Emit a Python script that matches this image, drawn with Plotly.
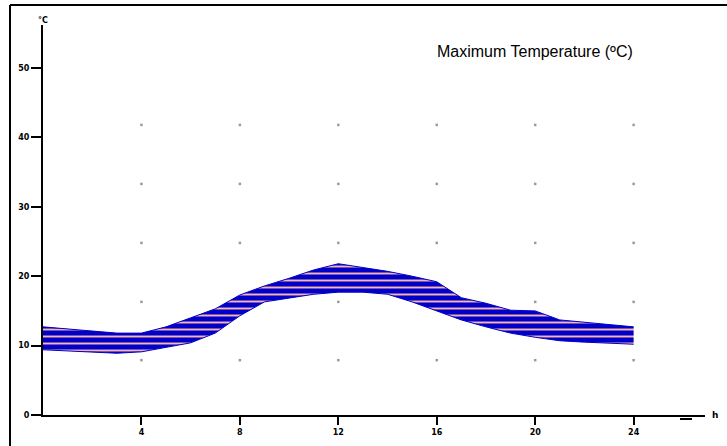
import plotly.graph_objects as go

# Hours of the day
hours = list(range(0, 25))
# Upper and lower edges of the maximum-temperature band (°C)
upper = [12.7, 12.4, 12.0, 11.8, 11.8, 12.7, 14.0, 15.3, 17.3, 18.6, 19.7, 20.9, 21.8,
         21.3, 20.7, 20.0, 19.2, 16.9, 16.1, 15.1, 15.0, 13.7, 13.4, 13.0, 12.7]
lower = [9.4, 9.2, 9.1, 8.9, 9.1, 9.7, 10.4, 11.8, 14.3, 16.3, 16.9, 17.4, 17.7,
         17.7, 17.4, 16.3, 15.0, 13.7, 12.7, 11.8, 11.2, 10.7, 10.5, 10.4, 10.2]

x_ticks = [4, 8, 12, 16, 20, 24]
x_labels = ["4", "8", "12", "16", "20", "24"]
y_ticks = [0, 10, 20, 30, 40, 50]
y_labels = ["0", "10", "20", "30", "40", "50"]

# dotted background grid
grid_x = [4, 8, 12, 16, 20, 24]
grid_y = [7.9, 16.3, 24.8, 33.3, 41.8]

fig = go.Figure()

gx, gy = [], []
for xv in grid_x:
    for yv in grid_y:
        gx.append(xv)
        gy.append(yv)
fig.add_trace(go.Scatter(x=gx, y=gy, mode="markers",
                         marker=dict(symbol="square", size=2.5, color="#9a9a9a"),
                         hoverinfo="skip", showlegend=False))

fig.add_trace(go.Scatter(x=hours, y=lower, mode="lines", line=dict(color="#0000c8", width=1),
                         showlegend=False, hoverinfo="skip"))
fig.add_trace(go.Scatter(x=hours, y=upper, mode="lines", line=dict(color="#0000c8", width=1),
                         fill="tonexty", fillcolor="#0000c8",
                         fillpattern=dict(shape="-", bgcolor="#0000c8", fgcolor="#f8b4ae",
                                          fgopacity=1, size=7, solidity=0.28),
                         showlegend=False, hoverinfo="skip"))

x_max = 26.9
y_max = 56.2

tick_font = dict(size=8, family="DejaVu Sans", color="black", weight="bold")

fig.update_layout(
    width=727, height=446,
    margin=dict(l=43, r=22, t=25, b=31, pad=0),
    paper_bgcolor="white", plot_bgcolor="white",
    font=dict(family="DejaVu Sans", color="black"),
    xaxis=dict(range=[0, x_max], tickvals=x_ticks, ticktext=x_labels, automargin=False,
               showgrid=False, zeroline=False, showline=True, linecolor="black", linewidth=2,
               ticks="outside", ticklen=8, tickwidth=2, tickcolor="black",
               tickfont=tick_font, fixedrange=True),
    yaxis=dict(range=[0, y_max], tickvals=y_ticks, ticktext=y_labels, automargin=False,
               showgrid=False, zeroline=False, showline=True, linecolor="black", linewidth=2,
               ticks="outside", ticklen=10, tickwidth=2, tickcolor="black",
               tickfont=tick_font, fixedrange=True),
    annotations=[
        dict(text="Maximum Temperature (ºC)", xref="paper", yref="paper",
             x=(535 - 43) / 662, y=(415 - 52) / 390, showarrow=False,
             font=dict(size=16, family="Liberation Sans", color="black"),
             xanchor="center", yanchor="middle"),
        dict(text="°C", xref="paper", yref="paper",
             x=(43 - 43) / 662, y=(415 - 20) / 390, showarrow=False,
             font=tick_font, xanchor="center", yanchor="middle"),
        dict(text="h", xref="paper", yref="paper",
             x=(715 - 43) / 662, y=(415 - 415) / 390, showarrow=False,
             font=dict(size=9, family="DejaVu Sans", weight="bold"),
             xanchor="center", yanchor="middle"),
    ],
    shapes=[
        # outer frame (left and top edges)
        dict(type="line", xref="paper", yref="paper",
             x0=(10 - 43) / 662, x1=(10 - 43) / 662, y0=(415 - 5) / 390, y1=(415 - 460) / 390,
             line=dict(color="black", width=2)),
        dict(type="line", xref="paper", yref="paper",
             x0=(10 - 43) / 662, x1=(740 - 43) / 662, y0=(415 - 5) / 390, y1=(415 - 5) / 390,
             line=dict(color="black", width=2)),
        # small mark near axis end
        dict(type="line", xref="paper", yref="paper",
             x0=(680 - 43) / 662, x1=(692 - 43) / 662, y0=(415 - 419) / 390, y1=(415 - 419) / 390,
             line=dict(color="black", width=2)),
    ],
)

fig.write_html("out.html", config={"displayModeBar": False},
               post_script="document.body.style.margin='0';document.body.style.overflow='hidden';")
